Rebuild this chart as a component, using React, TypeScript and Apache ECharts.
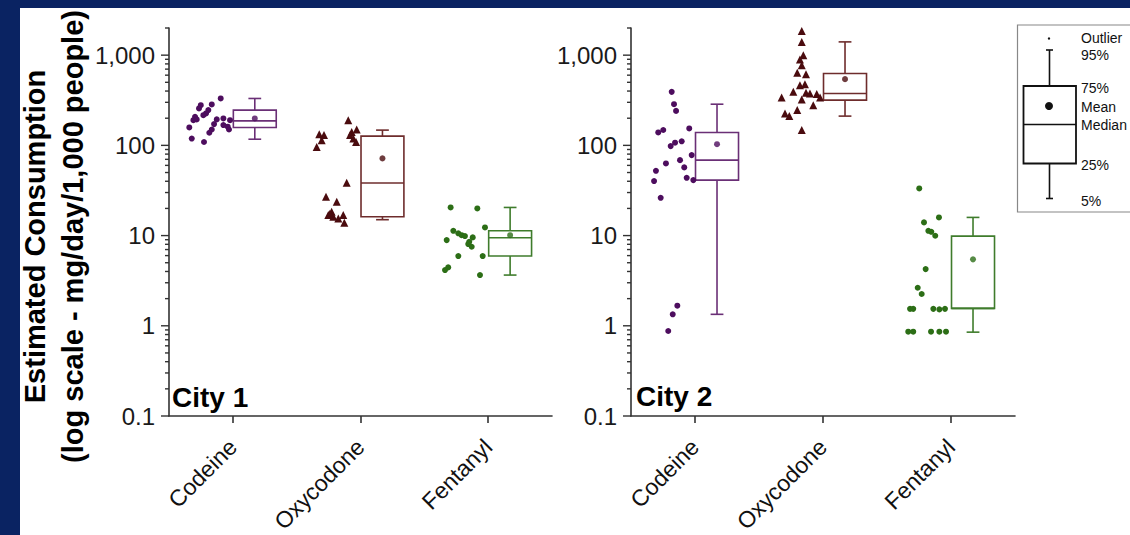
import React, { useEffect, useRef } from 'react';
import * as echarts from 'echarts';

const FONT = '"Liberation Sans", Arial, sans-serif';

const categories = ['Codeine', 'Oxycodone', 'Fentanyl'];
const yTickLabels = ['0.1', '1', '10', '100', '1,000'];
const majorTicks = [0.1, 1, 10, 100, 1000];
const minorTicks = [
  0.2, 0.3, 0.4, 0.5, 0.6, 0.7, 0.8, 0.9,
  2, 3, 4, 5, 6, 7, 8, 9,
  20, 30, 40, 50, 60, 70, 80, 90,
  200, 300, 400, 500, 600, 700, 800, 900, 2000,
];

const pointColors = ['#4d0d5e', '#4a0b0e', '#2c6e16'];
const boxColors = ['#6a2f76', '#6e2c2c', '#3f7c2c'];

// City 1 individual samples: [x position (category + jitter), value]
const city1Codeine = [
  [-0.095, 331], [-0.165, 284], [-0.251, 279], [-0.265, 257], [-0.192, 246],
  [-0.21, 226], [-0.231, 216], [-0.296, 207], [-0.309, 190], [-0.283, 194],
  [-0.126, 194], [-0.074, 199], [-0.022, 190], [-0.341, 158], [-0.147, 172],
  [-0.074, 168], [-0.04, 161], [-0.03, 150], [-0.165, 150], [-0.184, 138],
  [-0.322, 119], [-0.226, 109],
];
const city1Oxycodone = [
  [0.904, 190], [0.97, 150], [0.931, 141], [0.918, 130], [0.944, 119],
  [0.965, 109], [0.677, 133], [0.714, 130], [0.696, 114], [0.657, 96],
  [0.892, 38.5], [0.73, 26.9], [0.814, 23.7], [0.774, 18.4], [0.748, 16.9],
  [0.787, 16.2], [0.865, 16.9], [0.826, 15.5], [0.873, 13.9], [0.76, 17.5],
];
const city1Fentanyl = [
  [1.706, 20.5], [1.915, 20.0], [1.975, 12.3], [1.727, 11.3], [1.766, 10.6],
  [1.792, 10.1], [1.818, 9.87], [1.879, 9.55], [1.675, 8.91], [1.852, 8.53],
  [1.844, 8.05], [1.871, 7.52], [1.766, 5.93], [1.957, 5.93], [1.687, 4.44],
  [1.662, 4.15], [1.936, 3.65],
];
// [x, 5%, 25%, median, 75%, 95%]
const city1Boxes = [
  [0.172, 117, 158, 187, 246, 331],
  [1.172, 15.0, 16.2, 38.2, 126.6, 147.6],
  [2.172, 3.65, 5.93, 9.46, 11.3, 20.5],
];
const city1Means = [[0.172, 199], [1.172, 71.7], [2.172, 10.1]];

// City 2
const city2Codeine = [
  [-0.182, 392], [-0.164, 286], [-0.148, 241], [-0.287, 139], [-0.248, 148],
  [-0.045, 154], [-0.19, 98.1], [-0.156, 107], [-0.104, 111], [-0.026, 78],
  [-0.227, 63], [-0.117, 68.6], [-0.305, 52.2], [-0.084, 57], [-0.32, 40.2],
  [-0.065, 43.7], [-0.013, 41.2], [-0.268, 26.2], [-0.138, 1.67], [-0.174, 1.34],
  [-0.209, 0.875],
];
const city2Oxycodone = [
  [0.834, 1858], [0.834, 1403], [0.846, 1000], [0.82, 896], [0.834, 775],
  [0.799, 637], [0.867, 616], [0.82, 465], [0.859, 477], [0.768, 392],
  [0.867, 382], [0.898, 376], [0.951, 370], [0.677, 340], [0.834, 323],
  [0.977, 340], [0.924, 279], [0.799, 246], [0.703, 226], [0.737, 211],
  [0.834, 148],
];
const city2Fentanyl = [
  [1.752, 33.3], [1.789, 14.0], [1.906, 15.9], [1.823, 11.3], [1.846, 11.0],
  [1.877, 9.95], [1.802, 4.25], [1.74, 2.64], [1.771, 2.25], [1.68, 1.54],
  [1.705, 1.54], [1.862, 1.54], [1.909, 1.52], [1.953, 1.54], [1.666, 0.86],
  [1.705, 0.86], [1.844, 0.86], [1.909, 0.86], [1.961, 0.86],
];
const city2Boxes = [
  [0.172, 1.34, 41.2, 68.6, 139, 286],
  [1.172, 211, 317, 376, 627, 1403],
  [2.172, 0.85, 1.56, 1.56, 9.87, 15.9],
];
const city2Means = [[0.172, 103], [1.172, 542], [2.172, 5.45]];

const cityLabels = ['City 1', 'City 2'];

function renderBox(params: any, api: any) {
  const x = api.value(0);
  const hw = 0.168;
  const cw = 0.05;
  const y = (i: number) => api.coord([x, api.value(i)])[1];
  const cx = api.coord([x, 1])[0];
  const l = api.coord([x - hw, 1])[0];
  const r = api.coord([x + hw, 1])[0];
  const cl = api.coord([x - cw, 1])[0];
  const cr = api.coord([x + cw, 1])[0];
  const color = boxColors[params.dataIndex];
  const st = { stroke: color, lineWidth: 1.6, fill: null };
  const p5 = y(1), q1 = y(2), md = y(3), q3 = y(4), p95 = y(5);
  return {
    type: 'group',
    children: [
      { type: 'line', shape: { x1: cx, y1: q3, x2: cx, y2: p95 }, style: st },
      { type: 'line', shape: { x1: cx, y1: q1, x2: cx, y2: p5 }, style: st },
      { type: 'line', shape: { x1: cl, y1: p95, x2: cr, y2: p95 }, style: st },
      { type: 'line', shape: { x1: cl, y1: p5, x2: cr, y2: p5 }, style: st },
      { type: 'rect', shape: { x: l, y: q3, width: r - l, height: q1 - q3 }, style: { stroke: color, lineWidth: 1.6, fill: 'rgba(255,255,255,0)' } },
      { type: 'line', shape: { x1: l, y1: md, x2: r, y2: md }, style: st },
    ],
  };
}

function renderTick(params: any, api: any) {
  const p = api.coord([api.value(0), api.value(1)]);
  const len = api.value(2);
  return {
    type: 'line',
    shape: { x1: p[0] - len, y1: p[1], x2: p[0], y2: p[1] },
    style: { stroke: '#333', lineWidth: 1.4 },
  };
}

const tickData = [
  ...majorTicks.map((v) => [-0.5, v, 8]),
  ...minorTicks.map((v) => [-0.5, v, 4]),
];

function panelSeries(idx: number, pts: number[][][], boxes: number[][], means: number[][]) {
  const xi = idx * 2 + 1;
  const yi = idx;
  const s: any[] = [];
  s.push({
    type: 'custom', xAxisIndex: xi, yAxisIndex: yi, renderItem: renderTick,
    data: tickData, encode: { x: 0, y: 1 }, clip: false, silent: true, z: 3,
  });
  s.push({
    type: 'custom', xAxisIndex: xi, yAxisIndex: yi, renderItem: renderBox,
    data: boxes, encode: { x: 0, y: [1, 2, 3, 4, 5] }, clip: false, z: 3,
  });
  pts.forEach((p, k) => {
    s.push({
      type: 'scatter', xAxisIndex: xi, yAxisIndex: yi, data: p,
      symbol: k === 1 ? 'triangle' : 'circle', symbolSize: k === 1 ? 8 : 6,
      itemStyle: { color: pointColors[k], opacity: 1 }, z: 4,
    });
  });
  s.push({
    type: 'scatter', xAxisIndex: xi, yAxisIndex: yi,
    data: means.map((m, k) => ({ value: m, itemStyle: { color: pointColors[k] } })),
    symbol: 'circle', symbolSize: 6, z: 5,
  });
  return s;
}

function yAxisFor(gridIndex: number) {
  return {
    type: 'log', logBase: 10, gridIndex, min: 0.1, max: 2000,
    axisLine: { show: true, onZero: false, lineStyle: { color: '#333', width: 1.6 } },
    axisTick: { show: false },
    splitLine: { show: false },
    minorTick: { show: false },
    axisLabel: {
      color: '#1a1a1a', fontSize: 24, fontFamily: FONT, margin: 14,
      formatter: (v: number) => {
        const lg = Math.log10(v);
        const k = Math.round(lg);
        if (Math.abs(lg - k) > 1e-6) return '';
        return yTickLabels[k + 1] ?? '';
      },
    },
  };
}

function catAxis(gridIndex: number) {
  return {
    type: 'category', gridIndex, data: categories, boundaryGap: true,
    axisLine: { show: true, onZero: false, lineStyle: { color: '#333', width: 1.6 } },
    axisTick: { show: true, alignWithLabel: true, length: 7, lineStyle: { color: '#333', width: 1.6 } },
    axisLabel: { rotate: 45, fontSize: 23, color: '#111', fontFamily: FONT, margin: 27 },
  };
}

function valAxis(gridIndex: number) {
  return { type: 'value', gridIndex, min: -0.5, max: 2.5, show: false, axisLine: { onZero: false } };
}

function legendGraphics() {
  const black = '#111';
  const ls = { stroke: black, lineWidth: 1.6 };
  const txt = (y: number, t: string) => ({
    type: 'text', x: 1081, y, style: { text: t, fontSize: 14, fontFamily: FONT, fill: '#111', textVerticalAlign: 'middle' },
  });
  return [
    { type: 'rect', shape: { x: 1017.5, y: 25, width: 130, height: 187 }, style: { fill: '#fff', stroke: '#888', lineWidth: 1.2 } },
    { type: 'circle', shape: { cx: 1049, cy: 38.5, r: 1.2 }, style: { fill: black } },
    { type: 'line', shape: { x1: 1049.5, y1: 50, x2: 1049.5, y2: 86 }, style: ls },
    { type: 'line', shape: { x1: 1046, y1: 50, x2: 1053, y2: 50 }, style: ls },
    { type: 'rect', shape: { x: 1023.5, y: 86, width: 52.5, height: 77.5 }, style: { fill: 'rgba(255,255,255,0)', stroke: black, lineWidth: 1.8 } },
    { type: 'line', shape: { x1: 1023.5, y1: 124.5, x2: 1076, y2: 124.5 }, style: ls },
    { type: 'circle', shape: { cx: 1049, cy: 106, r: 4 }, style: { fill: black } },
    { type: 'line', shape: { x1: 1049.5, y1: 163.5, x2: 1049.5, y2: 198.5 }, style: ls },
    { type: 'line', shape: { x1: 1046, y1: 198.5, x2: 1053, y2: 198.5 }, style: ls },
    txt(38, 'Outlier'),
    txt(55, '95%'),
    txt(88, '75%'),
    txt(106.5, 'Mean'),
    txt(125, 'Median'),
    txt(165, '25%'),
    txt(201, '5%'),
  ];
}

export default function App() {
  const ref = useRef<HTMLDivElement>(null);
  useEffect(() => {
    if (!ref.current) return;
    const chart = echarts.init(ref.current, undefined, { renderer: 'svg' });
    const option: any = {
      animation: false,
      backgroundColor: '#0a2362',
      grid: [
        { left: 169, top: 28, width: 383, height: 388, containLabel: false, outerBoundsMode: 'none' },
        { left: 631, top: 28, width: 384, height: 388, containLabel: false, outerBoundsMode: 'none' },
      ],
      xAxis: [catAxis(0), valAxis(0), catAxis(1), valAxis(1)],
      yAxis: [yAxisFor(0), yAxisFor(1)],
      series: [
        ...panelSeries(0, [city1Codeine, city1Oxycodone, city1Fentanyl], city1Boxes, city1Means),
        ...panelSeries(1, [city2Codeine, city2Oxycodone, city2Fentanyl], city2Boxes, city2Means),
      ],
      graphic: [
        { type: 'rect', z: -10, shape: { x: 20, y: 8, width: 1115, height: 530 }, style: { fill: '#ffffff' } },
        {
          type: 'text', x: 35, y: 236.5, rotation: Math.PI / 2,
          style: { text: 'Estimated Consumption', fontSize: 29, fontWeight: 'bold', fontFamily: FONT, fill: '#000', textAlign: 'center', textVerticalAlign: 'middle' },
        },
        {
          type: 'text', x: 73, y: 236.5, rotation: Math.PI / 2,
          style: { text: '(log scale - mg/day/1,000 people)', fontSize: 29, fontWeight: 'bold', fontFamily: FONT, fill: '#000', textAlign: 'center', textVerticalAlign: 'middle' },
        },
        {
          type: 'text', x: 172, y: 397,
          style: { text: cityLabels[0], fontSize: 28, fontWeight: 'bold', fontFamily: FONT, fill: '#000', textVerticalAlign: 'middle' },
        },
        {
          type: 'text', x: 636, y: 396,
          style: { text: cityLabels[1], fontSize: 28, fontWeight: 'bold', fontFamily: FONT, fill: '#000', textVerticalAlign: 'middle' },
        },
        ...legendGraphics(),
      ],
    };
    chart.setOption(option);
    return () => chart.dispose();
  }, []);
  return <div ref={ref} style={{ position: 'fixed', left: 0, top: 0, width: 1130, height: 535 }} />;
}
